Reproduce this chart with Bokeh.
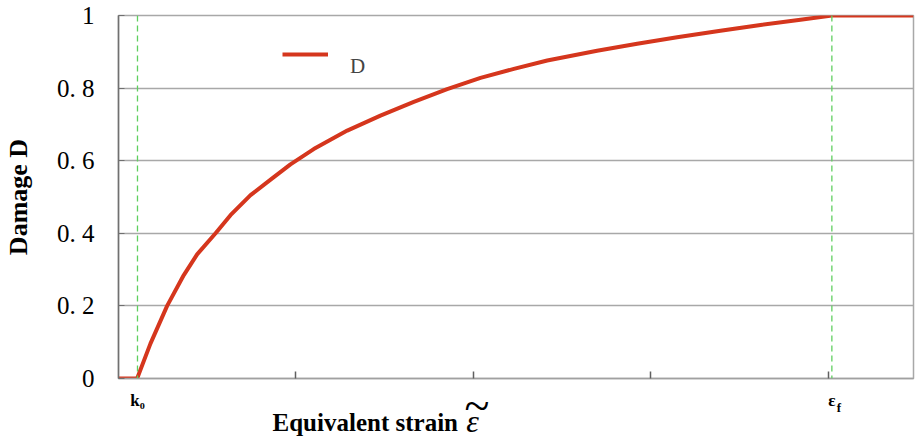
from bokeh.plotting import figure
from bokeh.models import Range1d, FixedTicker, Span, Legend, LegendItem
from bokeh.core.properties import value
from bokeh.embed import file_html
from bokeh.resources import INLINE

# Damage evolution curve D versus equivalent strain
strain = [0.0, 0.105, 0.18, 0.274, 0.368, 0.443, 0.547, 0.631, 0.744, 0.857, 0.969,
          1.10, 1.289, 1.476, 1.664, 1.852, 2.04, 2.228, 2.416, 2.697, 2.923, 3.148,
          3.392, 3.618, 3.843, 4.02, 4.48]
damage = [0.0, 0.0, 0.096, 0.2, 0.285, 0.342, 0.4, 0.45, 0.505, 0.548, 0.59,
          0.632, 0.683, 0.724, 0.762, 0.797, 0.828, 0.853, 0.876, 0.903, 0.922, 0.94,
          0.958, 0.974, 0.988, 1.0, 1.0]

k0 = 0.107        # damage threshold strain
eps_f = 4.02      # failure strain
x_minor = [1, 2, 3, 4]

y_ticks = [0, 0.2, 0.4, 0.6, 0.8, 1.0]
y_labels = ["0", "0. 2", "0. 4", "0. 6", "0. 8", "1"]

SERIF = "Liberation Serif"
RED = "#d5361d"
GREEN = "#5fcf5f"

p = figure(width=915, height=438, output_backend="svg", toolbar_location=None,
           x_range=Range1d(0, 4.48), y_range=Range1d(0, 1.0),
           min_border_left=118, min_border_right=2, min_border_top=15, min_border_bottom=60)
p.background_fill_color = "white"
p.border_fill_color = "white"
p.outline_line_color = "#a8a8a8"
p.outline_line_width = 1.5

# y axis
p.yaxis.ticker = FixedTicker(ticks=y_ticks)
p.yaxis.major_label_overrides = {t: s for t, s in zip(y_ticks, y_labels)}
p.yaxis.major_label_text_font = SERIF
p.yaxis.major_label_text_font_size = "25px"
p.yaxis.major_label_text_color = "black"
p.yaxis.major_label_standoff = 24
p.yaxis.major_tick_in = 6
p.yaxis.major_tick_out = 0
p.yaxis.minor_tick_line_color = None
p.yaxis.axis_line_color = "#707070"
p.yaxis.axis_line_width = 1.5
p.yaxis.major_tick_line_color = "#707070"
p.yaxis.axis_label = "Damage D"
p.yaxis.axis_label_text_font = SERIF
p.yaxis.axis_label_text_font_style = "bold"
p.yaxis.axis_label_text_font_size = "26px"
p.yaxis.axis_label_text_color = "black"
p.yaxis.axis_label_standoff = 21

# x axis: labelled threshold/failure strains, plain tick marks in between
p.xaxis.ticker = FixedTicker(ticks=[k0, eps_f], minor_ticks=x_minor)
p.xaxis.major_label_overrides = {k0: "k₀", eps_f: "ε"}
p.xaxis.major_label_text_font = SERIF
p.xaxis.major_label_text_font_style = "bold"
p.xaxis.major_label_text_font_size = "17px"
p.xaxis.major_label_text_color = "black"
p.xaxis.major_label_standoff = 12
p.xaxis.major_tick_in = 0
p.xaxis.major_tick_out = 0
p.xaxis.minor_tick_in = 7
p.xaxis.minor_tick_out = 0
p.xaxis.minor_tick_line_color = "#606060"
p.xaxis.minor_tick_line_width = 1.5
p.xaxis.axis_line_color = "#a0a0a0"
p.xaxis.axis_line_width = 1.5

p.xgrid.grid_line_color = None
p.ygrid.ticker = FixedTicker(ticks=y_ticks)
p.ygrid.grid_line_color = "#a8a8a8"
p.ygrid.grid_line_width = 1.5

# threshold and failure markers
for loc in (k0, eps_f):
    p.add_layout(Span(location=loc, dimension="height", line_color=GREEN,
                      line_dash="6 4", line_width=1.3))

r = p.line(strain, damage, line_color=RED, line_width=4, line_join="round")

# the legend text sits a little below its line sample
legend = Legend(items=[LegendItem(label="\nD", renderers=[r])], location=(164, 299),
                glyph_width=46, glyph_height=20, label_height=44, label_standoff=22,
                padding=0, margin=0, border_line_color=None, background_fill_alpha=0,
                label_text_font=SERIF, label_text_font_size="21px",
                label_text_line_height=0.85)
p.add_layout(legend)

# texts below the frame, drawn on the overlay level so they are not clipped
def below_text(x, y, s, size, style="bold", x_offset=0):
    p.text(x=[x], y=[y], text=[s], x_offset=x_offset, text_font=value(SERIF),
           text_font_style=style, text_font_size=value(size), text_color="black",
           text_baseline="middle", text_align="left", level="overlay")

below_text(eps_f, -0.080, "f", "13px", x_offset=5)           # subscript of failure strain
below_text(0.868, -0.121, "Equivalent strain", "25px")        # x axis title
below_text(1.96, -0.118, "ε", "32px", style="italic")
below_text(1.95, -0.074, "~", "46px", style="normal")

open("out.html", "w").write(file_html(p, INLINE))
